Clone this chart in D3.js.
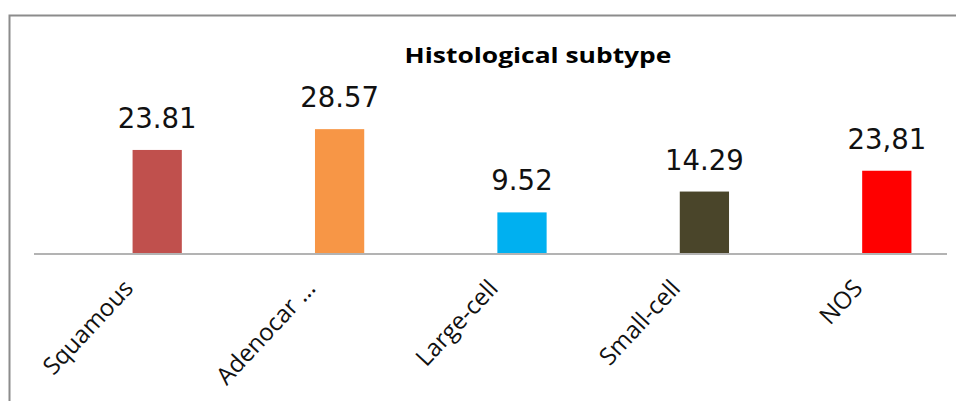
<!DOCTYPE html>
<html>
<head>
<meta charset="utf-8">
<script src="https://cdn.jsdelivr.net/npm/d3@7"></script>
<style>
  html,body{margin:0;background:#fff;overflow:hidden;}
  svg{display:block;}
</style>
</head>
<body>
<svg id="drawing_region"></svg>
<script>
// data
const categories = ["Squamous","Adenocar ...","Large-cell","Small-cell","NOS"]
const values = [23.81,28.57,9.52,14.29,19.05]
const value_labels = ["23.81","28.57","9.52","14.29","23,81"]
const colors = ["#c0504d","#f79646","#00b0f0","#4a452a","#ff0000"]

const config = {
    width:956,
    height:401,
    baseline:254,
    plot:{left:66,right:978},
    axis_line:{left:34,right:947}
}

const svg = d3.select("#drawing_region")
    .attr("width",config.width)
    .attr("height",config.height)

// frame: only top and left edges are inside the picture
svg.append("path")
    .attr("d",`M9.5,${config.height+5}V15.5H${config.width+5}`)
    .attr("fill","none")
    .attr("stroke","#8c8c8c")
    .attr("stroke-width",2)

svg.append("text")
    .attr("transform","translate(538,63) scale(1.2,1)")
    .attr("text-anchor","middle")
    .attr("font-family","Open Sans")
    .attr("font-weight","bold")
    .attr("font-size","22px")
    .attr("fill","#000")
    .text("Histological subtype")

const xscale = d3.scaleBand()
    .domain(categories)
    .range([config.plot.left,config.plot.right])
    .paddingInner(0.73)
    .paddingOuter(0.365)

const yscale = d3.scaleLinear()
    .domain([0,30])
    .range([config.baseline,config.baseline-131.1])

const chart = svg.append("g").attr("id","chart")

chart.selectAll("rect.bar")
    .data(values)
    .enter()
    .append("rect")
    .attr("class","bar")
    .attr("x",(d,i)=>xscale(categories[i]))
    .attr("y",d=>yscale(d))
    .attr("width",xscale.bandwidth())
    .attr("height",d=>yscale(0)-yscale(d))
    .attr("fill",(d,i)=>colors[i])

// baseline
chart.append("line")
    .attr("x1",config.axis_line.left)
    .attr("x2",config.axis_line.right)
    .attr("y1",yscale(0))
    .attr("y2",yscale(0))
    .attr("stroke","#b3b3b3")
    .attr("stroke-width",2)

// value labels
chart.selectAll("text.value")
    .data(values)
    .enter()
    .append("text")
    .attr("class","value")
    .attr("transform",(d,i)=>`translate(${xscale(categories[i])+xscale.bandwidth()/2},${yscale(d)-22}) scale(0.95,1)`)
    .attr("text-anchor","middle")
    .attr("font-family","DejaVu Sans")
    .attr("font-size","29px")
    .attr("fill","#111")
    .text((d,i)=>value_labels[i])

// category labels, rotated
chart.selectAll("text.cat")
    .data(categories)
    .enter()
    .append("text")
    .attr("class","cat")
    .attr("transform",d=>`translate(${xscale(d)+xscale.bandwidth()/2-35},${yscale(0)+24}) rotate(-47)`)
    .attr("text-anchor","end")
    .attr("dy","0.7em")
    .attr("font-family","Open Sans")
    .attr("font-size","24px")
    .attr("fill","#111")
    .text(d=>d)
</script>
</body>
</html>
